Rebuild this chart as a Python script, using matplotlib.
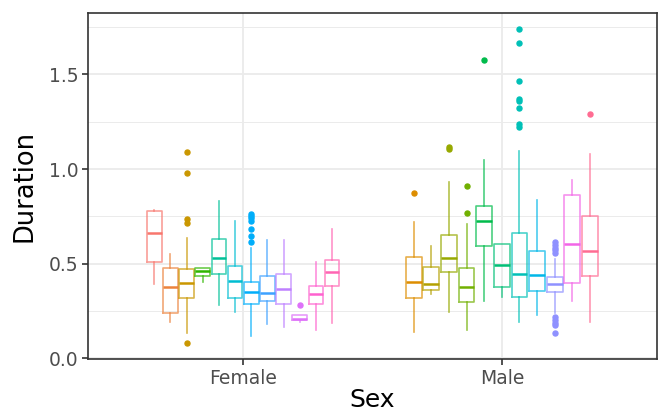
import numpy as np
import matplotlib
matplotlib.use("Agg")
import matplotlib.pyplot as plt

# Groups on the x axis and the number of colour levels in the legend
sexes = ["Female", "Male"]
n_levels = 23

# Female boxes: colour level, whisker low, Q1, median, Q3, whisker high
female_level = [0, 1, 3, 7, 10, 12, 14, 15, 17, 18, 20, 21]
female_whislo = [0.39, 0.19, 0.135, 0.405, 0.28, 0.245, 0.117, 0.179, 0.165, 0.193, 0.147, 0.186]
female_q1 = [0.51, 0.237, 0.319, 0.437, 0.446, 0.318, 0.286, 0.305, 0.286, 0.200, 0.284, 0.381]
female_med = [0.66, 0.379, 0.40, 0.46, 0.532, 0.409, 0.349, 0.347, 0.365, 0.206, 0.342, 0.454]
female_q3 = [0.78, 0.479, 0.472, 0.475, 0.628, 0.489, 0.405, 0.433, 0.444, 0.228, 0.384, 0.517]
female_whishi = [0.785, 0.551, 0.633, 0.476, 0.832, 0.726, 0.582, 0.623, 0.623, 0.228, 0.509, 0.682]
female_fliers = [[], [], [1.091, 0.977, 0.738, 0.716, 0.079], [], [], [],
                 [0.763, 0.753, 0.740, 0.726, 0.682, 0.646, 0.612], [], [], [0.281], [], []]

# Male boxes
male_level = [2, 4, 5, 6, 8, 9, 11, 13, 16, 19, 22]
male_whislo = [0.139, 0.337, 0.246, 0.151, 0.305, 0.323, 0.193, 0.23, 0.24, 0.30, 0.193]
male_q1 = [0.319, 0.361, 0.454, 0.295, 0.591, 0.377, 0.325, 0.354, 0.349, 0.40, 0.435]
male_med = [0.402, 0.395, 0.532, 0.375, 0.723, 0.491, 0.447, 0.439, 0.393, 0.605, 0.568]
male_q3 = [0.533, 0.481, 0.651, 0.477, 0.804, 0.604, 0.661, 0.566, 0.428, 0.863, 0.754]
male_whishi = [0.718, 0.591, 0.93, 0.711, 1.046, 0.604, 1.093, 0.835, 0.525, 0.94, 1.082]
male_fliers = [[0.875], [], [1.116, 1.105], [0.912, 0.767], [1.579], [],
               [1.742, 1.665, 1.467, 1.37, 1.361, 1.321, 1.237, 1.225], [],
               [0.612, 0.598, 0.584, 0.570, 0.556, 0.217, 0.202, 0.188, 0.174, 0.133],
               [], [1.289]]


def hue_color(h, c=100.0, l=65.0):
    # polar Luv (HCL) -> sRGB, same as ggplot's default hue scale
    xn, yn, zn = 95.047, 100.0, 108.883
    un = 4 * xn / (xn + 15 * yn + 3 * zn)
    vn = 9 * yn / (xn + 15 * yn + 3 * zn)
    u = c * np.cos(np.radians(h))
    v = c * np.sin(np.radians(h))
    y = yn * ((l + 16) / 116) ** 3
    up = u / (13 * l) + un
    vp = v / (13 * l) + vn
    x = y * 9 * up / (4 * vp)
    z = y * (12 - 3 * up - 20 * vp) / (4 * vp)
    m = np.array([[3.2404542, -1.5371385, -0.4985314],
                  [-0.9692660, 1.8760108, 0.0415560],
                  [0.0556434, -0.2040259, 1.0572252]])
    rgb = m @ (np.array([x, y, z]) / 100.0)
    rgb = np.where(rgb <= 0.0031308, 12.92 * rgb, 1.055 * np.abs(rgb) ** (1 / 2.4) - 0.055)
    return tuple(np.clip(rgb, 0, 1))


palette = [hue_color(15 + 360 * i / n_levels) for i in range(n_levels)]

fig = plt.figure(figsize=(6.59, 4.13), dpi=100)
ax = fig.add_axes([88 / 659, 54 / 413, 569 / 659, 346 / 413])

groups = [
    (1, female_level, female_whislo, female_q1, female_med, female_q3, female_whishi, female_fliers),
    (2, male_level, male_whislo, male_q1, male_med, male_q3, male_whishi, male_fliers),
]

dodge = 0.75
all_vals = []
for xc, lev, lo, q1, med, q3, hi, fl in groups:
    n = len(lev)
    step = dodge / n
    for i in range(n):
        pos = xc - dodge / 2 + step * (i + 0.5)
        col = palette[lev[i]]
        stats = [dict(whislo=lo[i], q1=q1[i], med=med[i], q3=q3[i], whishi=hi[i], fliers=fl[i])]
        ax.bxp(stats, positions=[pos], widths=step * 0.9, showcaps=False, patch_artist=False,
               boxprops=dict(color=col, linewidth=1.2, alpha=0.7),
               whiskerprops=dict(color=col, linewidth=1.2, alpha=0.7),
               medianprops=dict(color=col, linewidth=1.8),
               flierprops=dict(marker="o", markerfacecolor=col, markeredgecolor=col,
                               markersize=3.6, linestyle="none"),
               manage_ticks=False, zorder=3)
        all_vals += [lo[i], hi[i]] + list(fl[i])

# 5% expansion on y, 0.6 on the discrete x axis
vmin, vmax = min(all_vals), max(all_vals)
pad = 0.05 * (vmax - vmin)
ax.set_ylim(vmin - pad, vmax + pad)
ax.set_xlim(0.4, 2.6)

ax.set_xticks([1, 2])
ax.set_xticklabels(sexes)
ax.set_yticks([0.0, 0.5, 1.0, 1.5])
ax.set_yticklabels(["0.0", "0.5", "1.0", "1.5"])
ax.set_yticks([0.25, 0.75, 1.25, 1.75], minor=True)

ax.grid(True, which="major", color="#EBEBEB", linewidth=1.3, zorder=0)
ax.grid(True, which="minor", axis="y", color="#EBEBEB", linewidth=0.7, zorder=0)
ax.set_axisbelow(True)

for s in ax.spines.values():
    s.set_color("#333333")
    s.set_linewidth(1.2)

ax.tick_params(axis="both", which="major", length=4, width=1.2, color="#333333",
               labelsize=13.5, labelcolor="#4D4D4D", pad=3)
ax.tick_params(axis="both", which="minor", length=0)

ax.set_ylabel("Duration", fontsize=18.5, color="black", labelpad=8)
ax.set_xlabel("Sex", fontsize=18, color="black", labelpad=0)

fig.savefig("out.png", dpi=100)
